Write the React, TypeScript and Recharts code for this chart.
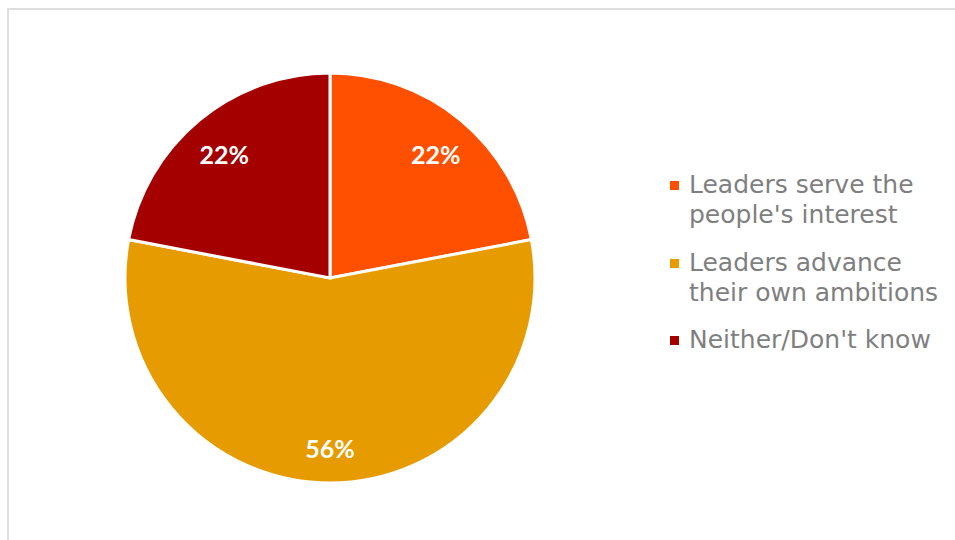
import { PieChart, Pie, Cell, Legend } from 'recharts'

const categories = [
  "Leaders serve the people's interest",
  'Leaders advance their own ambitions',
  "Neither/Don't know",
]
const legendLines = [
  ['Leaders serve the', "people's interest"],
  ['Leaders advance', 'their own ambitions'],
  ["Neither/Don't know"],
]
const shares = [22, 56, 22]
const colors = ['#ff5000', '#e69c00', '#a50000']

const data = categories.map((name, i) => ({ name, value: shares[i] }))

const RAD = Math.PI / 180

function renderLabel(props: any) {
  const { cx, cy, midAngle, value } = props
  const r = 166
  const x = cx + r * Math.cos(-midAngle * RAD)
  const y = cy + r * Math.sin(-midAngle * RAD) + 4
  return (
    <text
      x={x}
      y={y}
      fill="#fff"
      textAnchor="middle"
      dominantBaseline="central"
      style={{ fontFamily: 'Lato', fontWeight: 700, fontSize: 25 }}
    >
      {value}%
    </text>
  )
}

function LegendList() {
  return (
    <div style={{ fontFamily: 'DejaVu Sans', fontSize: 25, color: '#7f7f7f', lineHeight: '30px', whiteSpace: 'nowrap' }}>
      {legendLines.map((lines, i) => (
        <div key={i} style={{ display: 'flex', marginBottom: 17.5 }}>
          <div style={{ width: 9, height: 9, background: colors[i], marginTop: 11, marginRight: 10, flexShrink: 0 }} />
          <div>
            {lines.map((l, j) => (
              <div key={j}>{l}</div>
            ))}
          </div>
        </div>
      ))}
    </div>
  )
}

const frameLine = { position: 'fixed' as const, background: '#dedede', pointerEvents: 'none' as const }

export default function App() {
  return (
    <div style={{ position: 'relative', width: 939, height: 524 }}>
      <PieChart width={939} height={524}>
        <Pie
          data={data}
          dataKey="value"
          nameKey="name"
          cx={317}
          cy={265}
          outerRadius={205}
          startAngle={90}
          endAngle={-270}
          stroke="#fff"
          strokeWidth={3}
          label={renderLabel}
          labelLine={false}
          isAnimationActive={false}
        >
          {data.map((d, i) => (
            <Cell key={d.name} fill={colors[i]} />
          ))}
        </Pie>
        <Legend
          layout="vertical"
          content={() => <LegendList />}
          wrapperStyle={{ left: 662, top: 162, width: 277 }}
        />
      </PieChart>
      <div style={{ ...frameLine, left: 7, top: 8, width: 2, height: 532 }} />
      <div style={{ ...frameLine, left: 7, top: 8, width: 948, height: 2 }} />
    </div>
  )
}
